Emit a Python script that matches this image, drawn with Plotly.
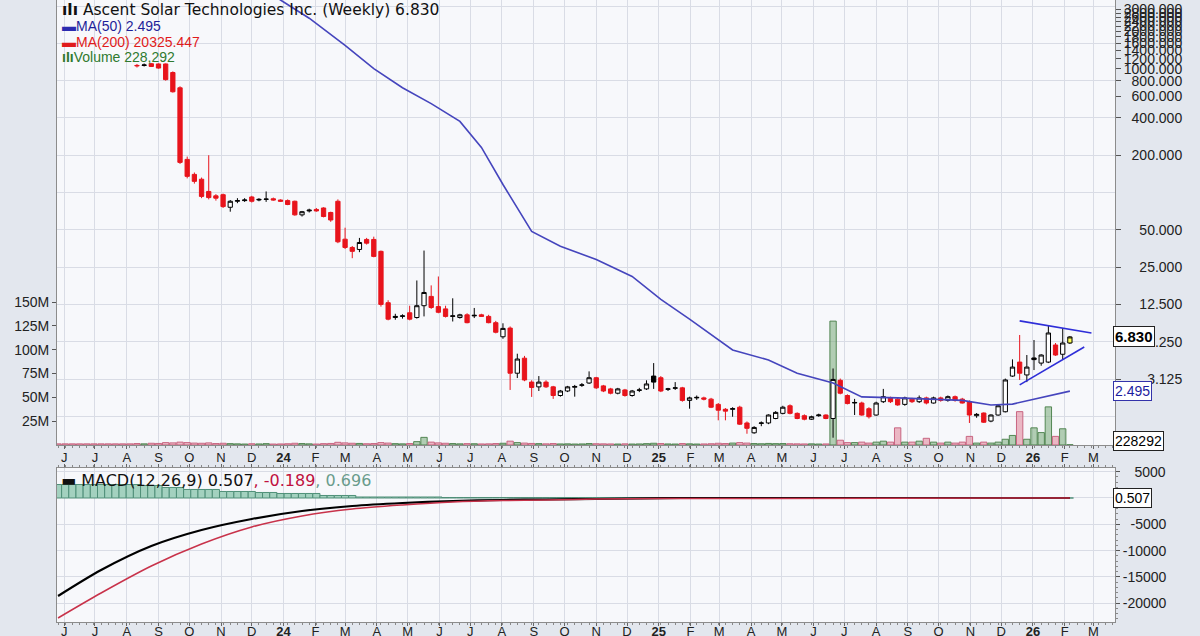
import math
import pandas as pd
import plotly.graph_objects as go

# ------------------------------------------------------------------ data
LAST_BAR = "2026-02-06"
N_BARS = 142
dates = [d.strftime("%Y-%m-%d") for d in pd.date_range(end=LAST_BAR, periods=N_BARS, freq="7D")]

# weekly OHLC (first 11 bars lie above the visible price range)
open_ = [9600, 9200, 8600, 8100, 7400, 7000, 6500, 6000, 5600, 5100, 4700,
         1050, 1060, 1095, 1090, 1090, 930, 700, 185, 140, 128,
         102, 94, 96, 76, 85, 86, 92, 87, 88, 89,
         87, 86, 85, 66, 71, 73, 75, 69, 85, 42,
         36, 34.7, 41.8, 41.8, 33.5, 12.9, 9.8, 10.0, 10.7, 9.8,
         12.2, 14.5, 12.0, 11.5, 10.0, 9.8, 10.3, 10.1, 10.3, 10.0,
         8.9, 6.85, 8.05, 3.48, 4.6, 2.95, 2.7, 2.95, 2.7, 2.3,
         2.5, 2.68, 2.78, 2.9, 3.2, 2.75, 2.6, 2.4, 2.55, 2.3,
         2.53, 2.6, 3.3, 3.2, 2.58, 2.63, 2.65, 2.1, 2.2, 2.2,
         2.15, 1.95, 1.78, 1.78, 1.85, 1.38, 1.15, 1.37, 1.38, 1.5,
         1.65, 1.9, 1.65, 1.58, 1.48, 1.58, 1.6, 1.5, 3.05, 2.3,
         2.0, 2.0, 1.8, 1.6, 2.05, 2.2, 2.15, 1.95, 2.15, 2.05,
         2.2, 2.0, 2.2, 2.1, 2.25, 2.15, 2.05, 1.58, 1.66, 1.43,
         1.6, 1.7, 3.3, 4.28, 3.37, 4.62, 4.2, 4.28, 5.88, 4.95,
         6.1]
high = [9900, 9500, 9000, 8400, 7700, 7300, 6800, 6300, 5900, 5300, 4900,
        1090, 1100, 1110, 1100, 1100, 950, 720, 195, 145, 132,
        200, 97, 98, 87, 90, 90, 94, 90, 102, 91,
        88, 88, 86, 71, 74, 75, 76, 70, 88, 52,
        37, 43, 43, 44, 34, 13.5, 10.5, 10.4, 12.2, 19.5,
        34, 17.8, 21, 12.2, 14, 10.5, 10.6, 11.7, 10.5, 10.3,
        9.2, 8.8, 8.3, 5.0, 4.8, 3.05, 3.3, 3.05, 2.75, 2.55,
        2.75, 2.8, 2.9, 3.6, 3.25, 2.8, 2.65, 2.65, 2.6, 2.55,
        2.65, 3.05, 4.2, 3.3, 2.65, 2.95, 2.7, 2.25, 2.3, 2.25,
        2.2, 2.0, 1.82, 1.85, 1.9, 1.42, 1.3, 1.42, 1.62, 1.72,
        1.9, 1.95, 1.68, 1.62, 1.58, 1.64, 1.62, 3.8, 3.15, 2.35,
        2.16, 2.05, 1.85, 2.05, 2.6, 2.25, 2.2, 2.25, 2.2, 2.3,
        2.25, 2.25, 2.25, 2.3, 2.3, 2.2, 2.1, 1.66, 1.68, 1.62,
        1.92, 3.15, 4.5, 7.08, 4.88, 6.45, 4.95, 8.5, 6.1, 8.06,
        6.95]
low = [9000, 8400, 7900, 7200, 6800, 6300, 5800, 5400, 4900, 4500, 4100,
       1020, 1040, 1030, 1000, 800, 640, 170, 130, 118, 90,
       88, 86, 75, 70, 82, 84, 83, 85, 84, 86,
       84, 79, 65, 64, 69, 70, 63, 58, 39, 35,
       29.5, 33, 38, 30, 12, 9.3, 9.4, 9.6, 9.3, 9.6,
       10.0, 11.5, 10.6, 9.8, 9.1, 9.6, 8.8, 9.7, 9.9, 8.8,
       7.3, 6.6, 2.55, 3.18, 3.0, 2.24, 2.5, 2.65, 2.16, 2.25,
       2.45, 2.25, 2.7, 2.85, 2.6, 2.45, 2.35, 2.35, 2.25, 2.25,
       2.45, 2.55, 2.6, 2.45, 2.5, 2.55, 2.05, 1.8, 2.12, 2.1,
       1.82, 1.45, 1.45, 1.55, 1.33, 1.13, 1.13, 1.3, 1.35, 1.48,
       1.62, 1.62, 1.48, 1.45, 1.46, 1.55, 1.48, 1.05, 2.35, 1.95,
       1.6, 1.58, 1.5, 1.58, 2.0, 2.0, 1.9, 1.9, 2.0, 2.0,
       1.95, 1.98, 2.05, 2.05, 2.05, 1.98, 1.38, 1.52, 1.38, 1.4,
       1.58, 1.68, 3.25, 3.07, 2.95, 3.69, 4.0, 4.2, 4.8, 4.48,
       6.0]
close = [9200, 8600, 8100, 7400, 7000, 6500, 6000, 5600, 5100, 4700, 4300,
         1060, 1070, 1040, 1010, 815, 650, 175, 135, 123, 93,
         91, 90, 77, 85, 86, 87, 85, 88, 88.5, 87,
         85, 80, 66, 70, 72, 71, 64, 60, 40, 36,
         33.5, 39.5, 39, 30.5, 12.5, 9.5, 10.0, 10.1, 9.5, 12.2,
         15.6, 11.8, 10.8, 10.0, 10.1, 10.3, 8.9, 10.2, 10.0, 8.9,
         7.45, 8.0, 3.48, 4.53, 3.07, 2.67, 2.95, 2.7, 2.3, 2.5,
         2.7, 2.72, 2.8, 3.2, 2.65, 2.5, 2.4, 2.6, 2.3, 2.5,
         2.55, 2.85, 2.95, 2.5, 2.6, 2.65, 2.1, 2.2, 2.22, 2.15,
         1.85, 1.75, 1.72, 1.8, 1.35, 1.25, 1.27, 1.38, 1.6, 1.68,
         1.85, 1.65, 1.5, 1.48, 1.55, 1.6, 1.5, 3.1, 2.4, 1.98,
         2.02, 1.6, 1.55, 2.0, 2.25, 2.05, 1.93, 2.2, 2.05, 2.2,
         2.0, 2.2, 2.1, 2.25, 2.1, 2.0, 1.6, 1.62, 1.4, 1.6,
         1.9, 3.07, 3.9, 3.48, 3.9, 4.48, 4.88, 7.35, 4.88, 6.1,
         6.83]
# weekly volume, millions of shares
volume_m = [1.2, 1.2, 1.2, 1.2, 1.2, 1.2, 1.2, 1.2, 1.2, 1.2, 1.2,
            1.5, 1.2, 1.8, 1.6, 2.5, 2.2, 3.0, 2.5, 2.0, 1.8,
            2.2, 1.5, 1.8, 1.4, 1.2, 1.0, 1.3, 1.1, 1.4, 1.0,
            1.1, 1.3, 1.8, 1.5, 1.2, 1.0, 1.4, 1.6, 2.8, 2.2,
            1.8, 1.6, 1.3, 1.5, 2.5, 2.0, 1.4, 1.2, 1.5, 3.5,
            8.0, 3.0, 2.2, 1.8, 1.5, 1.2, 1.4, 1.3, 1.1, 1.2,
            1.5, 1.8, 4.0, 2.5, 2.0, 1.6, 1.4, 1.2, 1.5, 1.1,
            1.2, 1.0, 1.1, 1.5, 1.3, 1.2, 1.1, 1.0, 1.2, 1.0,
            1.1, 1.4, 1.8, 1.5, 1.1, 1.0, 1.5, 1.2, 1.0, 1.1,
            1.3, 1.8, 1.5, 2.0, 2.5, 2.0, 1.5, 1.3, 1.6, 1.4,
            1.5, 1.3, 1.2, 1.1, 1.2, 1.0, 1.1, 130.0, 5.0, 2.5,
            2.5, 3.0, 2.0, 3.0, 4.0, 3.0, 18.0, 3.0, 3.0, 4.0,
            7.0, 3.0, 2.0, 3.0, 2.0, 3.0, 9.0, 2.0, 3.0, 2.0,
            3.0, 6.0, 10.0, 35.0, 6.0, 18.0, 13.0, 40.0, 9.0, 17.0,
            0.228292]

# MA(50) (bar index -> value)
ma50_bar = [29, 31, 35, 40, 44, 48, 52, 56, 59, 62, 66, 70, 75, 80, 84, 88,
            94, 99, 103, 108, 112, 117, 126, 130, 133, 137, 141]
ma50_val = [4300, 3580, 2550, 1540, 1000, 700, 522, 375, 231, 116, 48.5, 36.8,
            28.8, 21, 13.7, 9.5, 5.36, 4.45, 3.48, 2.9, 2.24, 2.2, 2.1, 1.93,
            1.96, 2.2, 2.495]

# MACD(12,26,9)
macd_bar = [0, 6, 13, 20, 27, 34, 41, 48, 55, 62, 68, 75, 87, 141]
macd_line = [-18630, -13690, -9125, -6085, -3990, -2470, -1520, -950, -570,
             -380, -285, -190, 0, 0.507]
macd_signal = [-22810, -18060, -12930, -8745, -5510, -3420, -2090, -1330, -760,
               -475, -380, -190, -95, -0.189]
macd_hist = [2560, 2560, 2560, 2560, 2560, 2560, 2560, 2560, 2560, 2560, 2560,
             2560, 2380, 2380, 2380, 2000, 2000, 2000, 1620, 1620, 1620,
             1620, 1620, 1240, 1240, 1240, 1240, 1240, 1050, 1050, 1050,
             860, 860, 860, 860, 860, 860, 480, 480, 480, 480,
             480, 190, 190, 190, 190, 190, 190, 190, 190, 190,
             190, 190, 190, 95, 95, 95, 95, 95, 95, 95,
             95, 95, 95, 95, 95, 95, 95, 95, 95, 95,
             95, 95, 95, 95, 95, 95, 95, 95, 95, 95,
             95, 95, 95, 0, 0, 0, 0, 0, 0, 0,
             0, 0, 0, 0, 0, 0, 0, 0, 0, 0,
             0, 0, 0, 0, 0, 0, 0, 0, 0, 0,
             0, 0, 0, 0, 0, 0, 0, 0, 0, 0,
             0, 0, 0, 0, 0, 0, 0, 0, 0, 0,
             0, 0, 0, 0, 0, 0, 0, 0, 0, 0,
             0]

# drawn triangle trendlines
trend_upper_x = ["2025-12-19", "2026-02-27"]
trend_upper_y = [9.2, 7.35]
trend_lower_x = ["2025-12-19", "2026-02-20"]
trend_lower_y = [2.8, 5.66]

# axis ticks
price_ticks = [3000, 2800, 2600, 2400, 2200, 2000, 1800, 1600, 1400, 1200, 1000,
               800, 600, 400, 200, 50, 25, 12.5, 6.25, 3.125]
price_grid = [1.5625, 3.125, 6.25, 12.5, 25, 50, 100, 200, 400, 800, 1600, 3200]
vol_ticks = [25, 50, 75, 100, 125, 150]
macd_ticks = [5000, 0, -5000, -10000, -15000, -20000]
macd_ticktext = ["\u00a0\u00a0\u00a05000", "", "\u00a0\u00a0-5000", "-10000", "-15000", "-20000"]

# ------------------------------------------------------------------ styling
RED = "#e8141c"
GRID = "#d9dce5"
AXLINE = "#8c8c8c"
TICKFONT = dict(family="Liberation Sans, Arial, sans-serif", size=14, color="#222")
X_RANGE = ["2023-05-25", "2026-03-22"]
P_RANGE = [math.log10(0.917), math.log10(3578)]
DAY = 86400000

n = len(close)
prev = [open_[0]] + close[:-1]
is_up = [close[i] >= prev[i] for i in range(n)]


def subset(idx):
    return dict(x=[dates[i] for i in idx], open=[open_[i] for i in idx],
                high=[high[i] for i in idx], low=[low[i] for i in idx],
                close=[close[i] for i in idx])


fig = go.Figure()

# volume (base axis so it stays behind the candles)
fig.add_trace(go.Bar(
    x=dates, y=volume_m, width=6.2 * DAY, xaxis="x", yaxis="y",
    marker=dict(color=["rgba(120,170,120,0.55)" if u else "rgba(226,140,160,0.6)" for u in is_up],
                line=dict(color=["rgba(70,125,70,0.9)" if u else "rgba(196,90,120,0.9)" for u in is_up],
                          width=1)),
    hoverinfo="skip"))

# grid-only axis helper trace
fig.add_trace(go.Scatter(x=[dates[0]], y=[10], xaxis="x", yaxis="y3", mode="markers",
                         marker=dict(opacity=0), hoverinfo="skip"))

# MA(50)
fig.add_trace(go.Scatter(x=[dates[i] for i in ma50_bar], y=ma50_val, xaxis="x", yaxis="y2",
                         mode="lines", line=dict(color="#4545bd", width=1.6), hoverinfo="skip"))

idx_dn = [i for i in range(n - 1) if not is_up[i]]
idx_up = [i for i in range(n - 1) if is_up[i]]
fig.add_trace(go.Candlestick(**subset(idx_dn), xaxis="x", yaxis="y2",
                             increasing=dict(line=dict(color=RED, width=1), fillcolor="white"),
                             decreasing=dict(line=dict(color=RED, width=1), fillcolor=RED),
                             hoverinfo="skip"))
fig.add_trace(go.Candlestick(**subset(idx_up), xaxis="x", yaxis="y2",
                             increasing=dict(line=dict(color="black", width=1), fillcolor="white"),
                             decreasing=dict(line=dict(color="black", width=1), fillcolor="black"),
                             hoverinfo="skip"))
fig.add_trace(go.Candlestick(**subset([n - 1]), xaxis="x", yaxis="y2",
                             increasing=dict(line=dict(color="black", width=1), fillcolor="#ffff55"),
                             decreasing=dict(line=dict(color="black", width=1), fillcolor="#ffff55"),
                             hoverinfo="skip"))

for tx, ty in ((trend_upper_x, trend_upper_y), (trend_lower_x, trend_lower_y)):
    fig.add_trace(go.Scatter(x=tx, y=ty, xaxis="x", yaxis="y2", mode="lines",
                             line=dict(color="#2e2ed8", width=1.6), hoverinfo="skip"))

# MACD panel
fig.add_trace(go.Bar(x=dates, y=macd_hist, width=7 * DAY, xaxis="x2", yaxis="y4",
                     marker=dict(color="#a3d1bf", line=dict(color="#4f8f78", width=1)),
                     hoverinfo="skip"))
fig.add_trace(go.Scatter(x=[dates[i] for i in macd_bar], y=macd_line, xaxis="x2", yaxis="y4",
                         mode="lines", line=dict(color="black", width=2.2, shape="spline", smoothing=0.8),
                         hoverinfo="skip"))
fig.add_trace(go.Scatter(x=[dates[i] for i in macd_bar], y=macd_signal, xaxis="x2", yaxis="y4",
                         mode="lines", line=dict(color="#c8324a", width=1.5, shape="spline", smoothing=0.8),
                         hoverinfo="skip"))

# month ticks
months = pd.date_range("2023-06-01", "2026-03-01", freq="MS")
letters = {1: "", 2: "F", 3: "M", 4: "A", 5: "M", 6: "J", 7: "J", 8: "A", 9: "S", 10: "O", 11: "N", 12: "D"}
m_vals = [m.strftime("%Y-%m-%d") for m in months]
m_text = [("<b>%s</b>" % m.strftime("%y")) if m.month == 1 else letters[m.month] for m in months]


def fmt_price(v):
    s = "%.3f" % v
    return "\u00a0" * (2 * (8 - len(s))) + s


xcommon = dict(type="date", range=X_RANGE, tickvals=m_vals, ticktext=m_text, showgrid=True,
               gridcolor=GRID, gridwidth=1, ticks="outside", ticklen=3, tickcolor="#666",
               tickfont=dict(family="Liberation Sans, Arial, sans-serif", size=13, color="#222"),
               minor=dict(ticks="outside", ticklen=2, dtick=7 * DAY, tick0=dates[0],
                          tickcolor="#888", showgrid=False),
               showline=True, linecolor=AXLINE, zeroline=False, fixedrange=True,
               automargin=False)

PRICE_DOM = [0.2846, 1.0]
MACD_DOM = [0.0, 0.2476]

fig.update_layout(
    width=1200, height=636,
    margin=dict(l=57, r=85, t=0, b=14, autoexpand=False),
    paper_bgcolor="#e3e7ee", plot_bgcolor="#f7f8fb",
    showlegend=False, hovermode=False, boxgap=0.15, boxmode="overlay",
    xaxis=dict(**xcommon, domain=[0, 1], anchor="y", mirror=True, ticklabelstandoff=-3,
               rangeslider=dict(visible=False)),
    xaxis2=dict(**xcommon, domain=[0, 1], anchor="y4", matches="x", mirror="ticks",
                ticklabelstandoff=-6, rangeslider=dict(visible=False)),
    yaxis=dict(domain=PRICE_DOM, range=[0, 467], side="left", tickvals=vol_ticks,
               ticktext=["%dM" % v for v in vol_ticks], showgrid=False, zeroline=False,
               ticks="outside", ticklen=4, tickcolor="#555", showline=True, linecolor=AXLINE,
               tickfont=TICKFONT, fixedrange=True, automargin=False),
    yaxis2=dict(overlaying="y", side="right", type="log", range=P_RANGE, tickvals=price_ticks,
                ticktext=[fmt_price(v) for v in price_ticks], showgrid=False, zeroline=False,
                ticks="outside", ticklen=5, tickcolor="#555", showline=True, linecolor=AXLINE,
                tickfont=TICKFONT, fixedrange=True, automargin=False),
    yaxis3=dict(overlaying="y", side="right", type="log", range=P_RANGE, tickvals=price_grid,
                showgrid=True, gridcolor=GRID, showticklabels=False, ticks="", showline=False,
                zeroline=False, fixedrange=True, automargin=False),
    yaxis4=dict(domain=MACD_DOM, anchor="x2", side="right", range=[-23572, 5703],
                tickvals=macd_ticks, ticktext=macd_ticktext, showgrid=True, gridcolor=GRID,
                zeroline=False, ticks="outside", ticklen=4, tickcolor="#555",
                minor=dict(ticks="outside", ticklen=2, dtick=1000, tickcolor="#888", showgrid=False),
                showline=True, linecolor=AXLINE, mirror=True, tickfont=TICKFONT, fixedrange=True,
                automargin=False),
)


def px_x(px):
    return (px - 57) / 1058.0


def px_y(py):
    return (622 - py) / 622.0


LEG = "Liberation Sans, Arial, sans-serif"
anns = [
    dict(x=px_x(60), y=px_y(10), text="<b>ılı</b> Ascent Solar Technologies Inc. (Weekly) 6.830",
         font=dict(family="DejaVu Sans", size=15.5, color="#111")),
    dict(x=px_x(60), y=px_y(26), text="<span style='color:#2b2bb0'>▬</span>MA(50) 2.495",
         font=dict(family=LEG, size=14, color="#1f1f99")),
    dict(x=px_x(60), y=px_y(42), text="<span style='color:#e01b1b'>▬</span>MA(200) 20325.447",
         font=dict(family=LEG, size=14, color="#e01b1b")),
    dict(x=px_x(60), y=px_y(57), text="<b>ıIı</b>Volume 228,292",
         font=dict(family=LEG, size=14, color="#2f7a2f")),
    dict(x=px_x(59), y=px_y(481),
         text="▬ MACD(12,26,9) 0.507<span style='color:#c01040'>, -0.189</span>"
              "<span style='color:#6a9c8c'>, 0.696</span>",
         font=dict(family="DejaVu Sans", size=16, color="#111")),
]
for a in anns:
    fig.add_annotation(xref="paper", yref="paper", xanchor="left", yanchor="middle",
                       showarrow=False, **a)

# value tags on the right axis
tags = [
    dict(yref="y2", y=math.log10(6.83), text="<b>6.830</b>", color="#000", border="#222", size=15),
    dict(yref="y2", y=math.log10(2.495), text="2.495", color="#1c1ca0", border="#3333aa", size=14),
    dict(yref="y", y=0.228292, text="228292", color="#000", border="#222", size=14, yshift=4),
    dict(yref="y4", y=0.507, text="0.507", color="#000", border="#222", size=14),
]
for t in tags:
    fig.add_annotation(xref="paper", x=1.0, xanchor="left", xshift=-2, yref=t["yref"], y=t["y"],
                       yanchor="middle", yshift=t.get("yshift", 0), text=t["text"], showarrow=False,
                       font=dict(family=LEG, size=t["size"], color=t["color"]),
                       bgcolor="white", bordercolor=t["border"], borderwidth=1, borderpad=1)

fig.write_html("out.html", config={"displayModeBar": False},
               post_script="document.body.style.margin='0';")
